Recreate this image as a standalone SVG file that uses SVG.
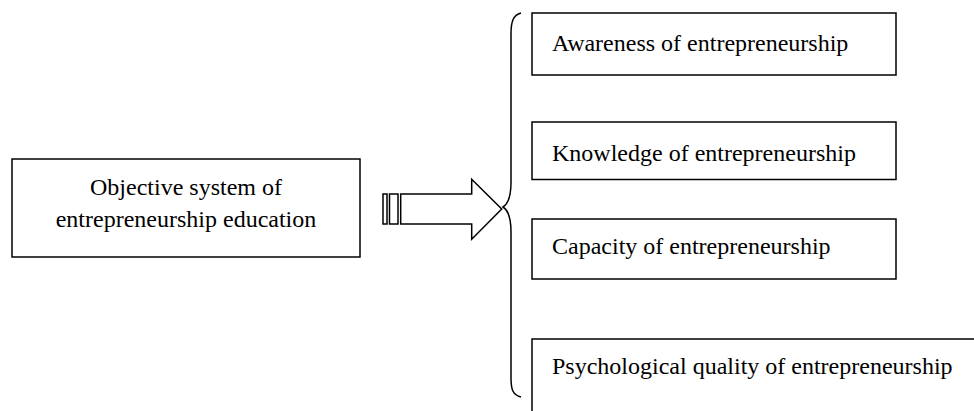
<svg xmlns="http://www.w3.org/2000/svg" width="974" height="411" viewBox="0 0 974 411">
<style>
.box{fill:#fff;stroke:#000;stroke-width:1.5}
.ln{fill:none;stroke:#000;stroke-width:1.5}
text{font-family:"Liberation Serif","Times New Roman",serif;font-size:24px;fill:#000}
</style>
<rect width="974" height="411" fill="#fff"/>
<g id="source">
<rect class="box" x="12" y="159" width="348" height="98"/>
<text x="186" y="195" text-anchor="middle">Objective system of</text>
<text x="186" y="227" text-anchor="middle">entrepreneurship education</text>
</g>
<g id="connectors">
<rect class="box" x="383" y="194" width="4" height="30"/>
<rect class="box" x="389.5" y="194" width="8.5" height="30"/>
<path class="box" d="M400.7,194 H471.7 V179.3 L501.7,209 L471.7,239.3 V224 H400.7 Z" stroke-linejoin="miter"/>
<path class="ln" d="M521,13 C513,15 511,22 511,34 V182 C511,198 508,204 503,207 C508,210 511,216 511,232 V378 C511,390 513,395 521,397"/>
</g>
<g id="awareness">
<rect class="box" x="532" y="13" width="364" height="62"/>
<text x="552" y="51">Awareness of entrepreneurship</text>
</g>
<g id="knowledge">
<rect class="box" x="532" y="122" width="364" height="57.5"/>
<text x="552" y="161">Knowledge of entrepreneurship</text>
</g>
<g id="capacity">
<rect class="box" x="532" y="219" width="364" height="60"/>
<text x="552" y="254">Capacity of entrepreneurship</text>
</g>
<g id="psychological">
<rect class="box" x="532" y="339" width="460" height="90"/>
<text x="552" y="374">Psychological quality of entrepreneurship</text>
</g>
</svg>
